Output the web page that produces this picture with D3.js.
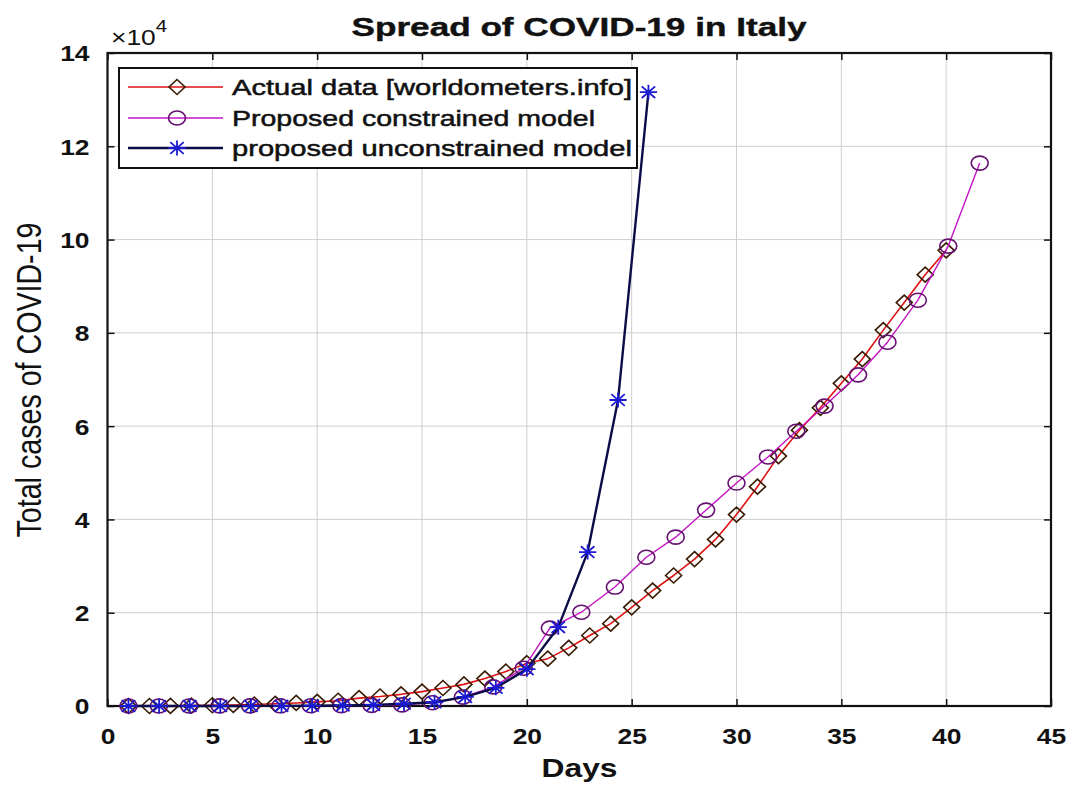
<!DOCTYPE html>
<html>
<head>
<meta charset="utf-8">
<script src="https://cdn.jsdelivr.net/npm/d3@7"></script>
<style>
  html, body { margin: 0; padding: 0; background: #fff; }
  svg { display: block; font-family: "Liberation Sans", Arial, Helvetica, sans-serif; }
</style>
</head>
<body>
<svg id="chart" width="1070" height="786"></svg>
<script>
// Actual reported totals, one point per day
const actualDays = [1,2,3,4,5,6,7,8,9,10,11,12,13,14,15,16,17,18,19,20,
                    21,22,23,24,25,26,27,28,29,30,31,32,33,34,35,36,37,38,39,40];
const actualCases = [3,3,20,79,157,229,323,470,655,889,1128,1694,2036,2502,3089,3858,4636,5883,7375,9172,
                     10149,12462,15113,17660,21157,24747,27980,31506,35713,41035,47021,53578,59138,63927,69176,74386,80589,86498,92472,97689];

// Proposed constrained model
const constrainedDays = [1,2.45,3.9,5.35,6.8,8.25,9.7,11.15,12.6,14.05,15.5,16.95,18.4,19.85,
                         21.1,22.6,24.2,25.7,27.1,28.55,30.0,31.5,32.85,34.2,35.8,37.2,38.65,40.1,41.6];
const constrainedCases = [5,10,15,20,30,40,60,90,130,250,700,1900,4100,8100,
                          16700,20100,25500,31900,36200,42000,47800,53400,58900,64300,71000,78000,87000,98600,116400];

// Proposed unconstrained model
const unconstrainedDays = [1,2.46,3.92,5.38,6.84,8.3,9.76,11.22,12.68,14.14,15.6,17.06,18.52,20.0,21.5,22.9,24.35,25.8];
const unconstrainedCases = [1,2,4,8,15,30,60,120,240,480,800,1950,3900,7900,16900,33000,65600,131600];

const xTicks = [0,5,10,15,20,25,30,35,40,45];
const yTicks = [0,2,4,6,8,10,12,14];           // in units of 10^4
const legendLabels = ["Actual data [worldometers.info]", "Proposed constrained model", "proposed unconstrained model"];

const svg = d3.select("#chart");
const mLeft = 107.5, mRight = 1051, mTop = 53, mBottom = 706;
const x = d3.scaleLinear().domain([0, 45]).range([mLeft, mRight]);
const y = d3.scaleLinear().domain([0, 14e4]).range([mBottom, mTop]);
const TX = 1.2; // horizontal text widening

// grid
const grid = svg.append("g");
grid.selectAll(".gx").data(xTicks).enter().append("line")
  .attr("x1", d => x(d)).attr("x2", d => x(d)).attr("y1", mTop).attr("y2", mBottom)
  .attr("stroke", "#cfcfcf").attr("stroke-width", 1);
grid.selectAll(".gy").data(yTicks).enter().append("line")
  .attr("x1", mLeft).attr("x2", mRight).attr("y1", d => y(d * 1e4)).attr("y2", d => y(d * 1e4))
  .attr("stroke", "#cfcfcf").attr("stroke-width", 1);

// axes (ticks pointing inward, box on)
const fmt = d => String(d);
const gxB = svg.append("g").attr("transform", `translate(0,${mBottom})`)
  .call(d3.axisBottom(x).tickValues(xTicks).tickSize(-7).tickFormat(fmt));
const gxT = svg.append("g").attr("transform", `translate(0,${mTop})`)
  .call(d3.axisTop(x).tickValues(xTicks).tickSize(-7).tickFormat(""));
const gyL = svg.append("g").attr("transform", `translate(${mLeft},0)`)
  .call(d3.axisLeft(y).tickValues(yTicks.map(v => v * 1e4)).tickSize(-7).tickPadding(15).tickFormat(d => fmt(d / 1e4)));
const gyR = svg.append("g").attr("transform", `translate(${mRight},0)`)
  .call(d3.axisRight(y).tickValues(yTicks.map(v => v * 1e4)).tickSize(-7).tickFormat(""));
[gxB, gxT, gyL, gyR].forEach(g => {
  g.select(".domain").remove();
  g.selectAll(".tick line").attr("stroke", "#111").attr("stroke-width", 1.5);
});
gxB.selectAll("text").attr("y", null).attr("dy", null)
  .attr("transform", `translate(0,38) scale(${TX},1)`)
  .attr("font-size", 22).attr("font-weight", "bold").attr("fill", "#111")
  .attr("font-family", '"Liberation Sans", Arial, sans-serif');
gyL.selectAll("text").attr("dy", "0.36em")
  .attr("transform", `scale(${TX},1)`)
  .attr("font-size", 22).attr("font-weight", "bold").attr("fill", "#111")
  .attr("font-family", '"Liberation Sans", Arial, sans-serif');

// box
svg.append("rect").attr("x", mLeft).attr("y", mTop).attr("width", mRight - mLeft).attr("height", mBottom - mTop)
  .attr("fill", "none").attr("stroke", "#111").attr("stroke-width", 2.2);

// marker shapes
const diamondPath = (w, h) => `M0,${-h}L${w},0L0,${h}L${-w},0Z`;
const starPath = (r) => {
  const rx = r * 1.15, d = r * 0.78;
  return `M${-rx},0H${rx}M0,${-r}V${r}M${-d * 1.15},${-d}L${d * 1.15},${d}M${-d * 1.15},${d}L${d * 1.15},${-d}`;
};

const line = d3.line().x(d => x(d[0])).y(d => y(d[1]));
const plot = svg.append("g");

const series = [
  { days: actualDays, vals: actualCases, line: "#dd1111", lw: 1.6, marker: "diamond", mstroke: "#3a1c05" },
  { days: constrainedDays, vals: constrainedCases, line: "#c414c4", lw: 1.4, marker: "circle", mstroke: "#641070" },
  { days: unconstrainedDays, vals: unconstrainedCases, line: "#0c0c48", lw: 2.4, marker: "star", mstroke: "#1a1ad2" }
];

function drawMarker(g, kind, stroke) {
  if (kind === "diamond") {
    g.append("path").attr("d", diamondPath(8, 7.5)).attr("fill", "none")
      .attr("stroke", stroke).attr("stroke-width", 1.6);
  } else if (kind === "circle") {
    g.append("ellipse").attr("rx", 8.5).attr("ry", 7).attr("fill", "none")
      .attr("stroke", stroke).attr("stroke-width", 1.6);
  } else {
    g.append("path").attr("d", starPath(7.5)).attr("fill", "none")
      .attr("stroke", stroke).attr("stroke-width", 1.8);
  }
}

series.forEach(s => {
  const pts = s.days.map((d, i) => [d, s.vals[i]]);
  plot.append("path").datum(pts).attr("d", line).attr("fill", "none")
    .attr("stroke", s.line).attr("stroke-width", s.lw).attr("stroke-linejoin", "round");
  plot.append("g").selectAll("g").data(pts).enter().append("g")
    .attr("transform", d => `translate(${x(d[0])},${y(d[1])})`)
    .each(function () { drawMarker(d3.select(this), s.marker, s.mstroke); });
});

// legend
const leg = svg.append("g");
leg.append("rect").attr("x", 119).attr("y", 68).attr("width", 518).attr("height", 100)
  .attr("fill", "#fff").attr("stroke", "#111").attr("stroke-width", 2);
const rowY = [87, 118, 148];
const legLens = [400, 363, 400];
series.forEach((s, i) => {
  leg.append("line").attr("x1", 128).attr("x2", 223).attr("y1", rowY[i]).attr("y2", rowY[i])
    .attr("stroke", s.line).attr("stroke-width", s.lw);
  const m = leg.append("g").attr("transform", `translate(177,${rowY[i]})`);
  drawMarker(m, s.marker, s.mstroke);
  leg.append("text").attr("x", 232).attr("y", rowY[i] + 8)
    .attr("font-size", 22).attr("fill", "#111").attr("stroke", "#111").attr("stroke-width", 0.5)
    .attr("textLength", legLens[i]).attr("lengthAdjust", "spacingAndGlyphs")
    .text(legendLabels[i]);
});

// title
svg.append("text").attr("x", 579).attr("y", 36).attr("text-anchor", "middle")
  .attr("font-size", 25).attr("font-weight", "bold").attr("fill", "#111")
  .attr("stroke", "#111").attr("stroke-width", 0.4)
  .attr("textLength", 455).attr("lengthAdjust", "spacingAndGlyphs")
  .text("Spread of COVID-19 in Italy");

// exponent label
const ex = svg.append("text").attr("transform", "translate(111,45) scale(1.2,1)").attr("fill", "#111");
ex.append("tspan").attr("font-size", 22).text("×10");
ex.append("tspan").attr("font-size", 17).attr("dy", -13).text("4");

// axis labels
svg.append("text").attr("x", 579.5).attr("y", 777).attr("text-anchor", "middle")
  .attr("font-size", 26).attr("font-weight", "bold").attr("fill", "#111")
  .attr("textLength", 76).attr("lengthAdjust", "spacingAndGlyphs")
  .text("Days");

svg.append("text")
  .attr("transform", `translate(41,380) scale(1.15,1) rotate(-90)`)
  .attr("text-anchor", "middle")
  .attr("font-family", '"Liberation Sans Narrow", "Arial Narrow", "Liberation Sans", sans-serif')
  .attr("font-size", 30).attr("fill", "#111")
  .attr("textLength", 315).attr("lengthAdjust", "spacingAndGlyphs")
  .text("Total cases of COVID-19");
</script>
</body>
</html>
